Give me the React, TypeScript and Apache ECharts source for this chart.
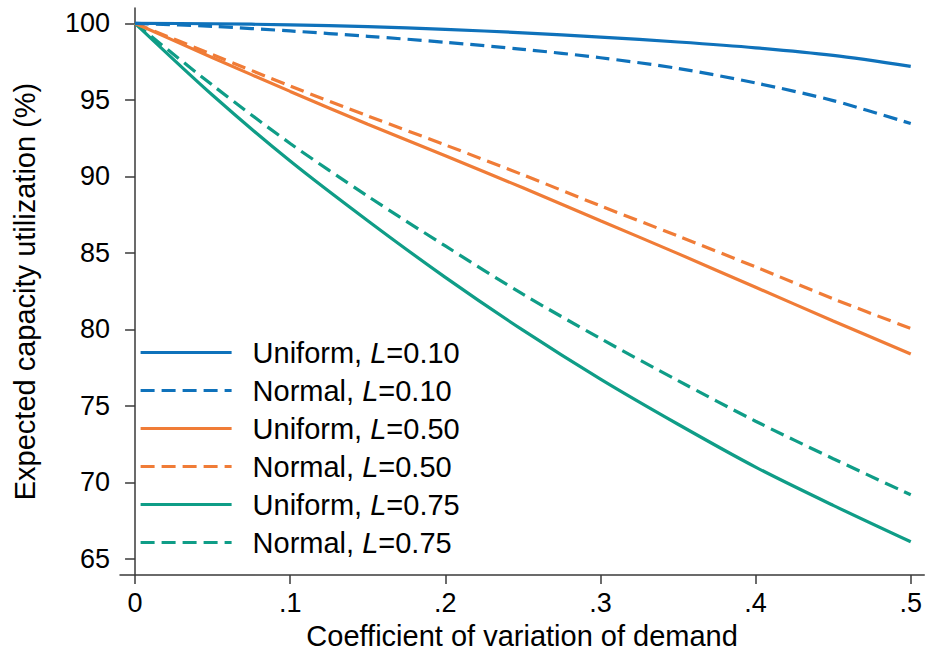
import React, { useEffect, useRef } from "react";
import * as echarts from "echarts";

const cv = [0, 0.05, 0.1, 0.15, 0.2, 0.25, 0.3, 0.35, 0.4, 0.45, 0.5];
const uniform010 = [100, 99.97, 99.9, 99.78, 99.6, 99.38, 99.1, 98.78, 98.4, 97.9, 97.19];
const normal010 = [100, 99.8, 99.5, 99.15, 98.76, 98.3, 97.75, 97.05, 96.1, 94.95, 93.45];
const uniform050 = [100, 97.75, 95.55, 93.4, 91.35, 89.25, 87.1, 84.95, 82.75, 80.55, 78.39];
const normal050 = [100, 97.95, 95.9, 93.95, 92.05, 90.1, 88.07, 86.1, 84.08, 82.0, 80.06];
const uniform075 = [100, 95.3, 91.0, 87.1, 83.4, 79.95, 76.75, 73.8, 71.0, 68.5, 66.12];
const normal075 = [100, 95.95, 92.15, 88.7, 85.45, 82.3, 79.4, 76.65, 74.0, 71.55, 69.19];

const xTicks = [0, 0.1, 0.2, 0.3, 0.4, 0.5];
const xTickLabels = ["0", ".1", ".2", ".3", ".4", ".5"];
const yTicks = [65, 70, 75, 80, 85, 90, 95, 100];

const seriesNames = [
  "Uniform, L=0.10",
  "Normal, L=0.10",
  "Uniform, L=0.50",
  "Normal, L=0.50",
  "Uniform, L=0.75",
  "Normal, L=0.75",
];
const seriesValues = [uniform010, normal010, uniform050, normal050, uniform075, normal075];
const seriesColors = ["#0f72bb", "#0f72bb", "#f07c37", "#f07c37", "#0f9d87", "#0f9d87"];
const seriesDashed = [false, true, false, true, false, true];

const FONT = "'Liberation Sans', Arial, Helvetica, sans-serif";

export default function App() {
  const ref = useRef<HTMLDivElement>(null);
  useEffect(() => {
    document.body.style.margin = "0";
    const chart = echarts.init(ref.current!, null, { renderer: "svg" });
    const axisColor = "#3a3a3a";
    chart.setOption({
      animation: false,
      backgroundColor: "#ffffff",
      textStyle: { fontFamily: FONT },
      grid: { left: 120, right: 0, top: 8, bottom: 73, containLabel: false },
      legend: {
        orient: "vertical",
        left: 139,
        top: 338,
        padding: 0,
        itemWidth: 91,
        itemHeight: 30,
        itemGap: 9,
        itemStyle: { opacity: 0 },
        lineStyle: { width: 3.2 },
        data: seriesNames,
        formatter: (name: string) => {
          const [d, rest] = name.split(", L=");
          return `{a|${d}, }{i|L}{a|=${rest}}`;
        },
        textStyle: {
          padding: [0, 0, 0, 16],
          rich: {
            a: { fontSize: 29, fontFamily: FONT, color: "#000", lineHeight: 30 },
            i: { fontSize: 29, fontFamily: FONT, color: "#000", fontStyle: "italic", lineHeight: 30 },
          },
        },
      },
      xAxis: {
        type: "value",
        min: -0.0097,
        max: 0.5087,
        name: "Coefficient of variation of demand",
        nameLocation: "middle",
        nameGap: 46,
        nameTextStyle: { fontSize: 29, color: "#000", fontFamily: FONT },
        axisLine: { show: true, lineStyle: { color: axisColor, width: 1.5 } },
        axisTick: { show: true, length: 9, customValues: xTicks, lineStyle: { color: axisColor, width: 1.5 } },
        axisLabel: {
          customValues: xTicks,
          fontSize: 27,
          color: "#000",
          margin: 14,
          fontFamily: FONT,
          formatter: (v: number) => {
            const idx = xTicks.findIndex((t) => Math.abs(t - v) < 1e-9);
            return idx >= 0 ? xTickLabels[idx] : "";
          },
        },
        splitLine: { show: false },
      },
      yAxis: {
        type: "value",
        min: 63.95,
        max: 101,
        name: "Expected capacity utilization (%)",
        nameLocation: "middle",
        nameGap: 81,
        nameTextStyle: { fontSize: 29, color: "#000", fontFamily: FONT },
        axisLine: { show: true, lineStyle: { color: axisColor, width: 1.5 } },
        axisTick: { show: true, length: 10, customValues: yTicks, lineStyle: { color: axisColor, width: 1.5 } },
        axisLabel: {
          customValues: yTicks,
          fontSize: 27,
          color: "#000",
          margin: 10,
          fontFamily: FONT,
        },
        splitLine: { show: false },
      },
      series: seriesNames.map((name, i) => ({
        name,
        type: "line",
        smooth: 0.3,
        symbol: "none",
        showSymbol: false,
        data: cv.map((x, j) => [x, seriesValues[i][j]]),
        itemStyle: { color: seriesColors[i] },
        lineStyle: {
          color: seriesColors[i],
          width: 3.2,
          type: seriesDashed[i] ? [14, 7] : "solid",
        },
        z: 10 - i,
      })),
    });
    return () => chart.dispose();
  }, []);
  return <div ref={ref} style={{ width: 925, height: 655 }} />;
}
